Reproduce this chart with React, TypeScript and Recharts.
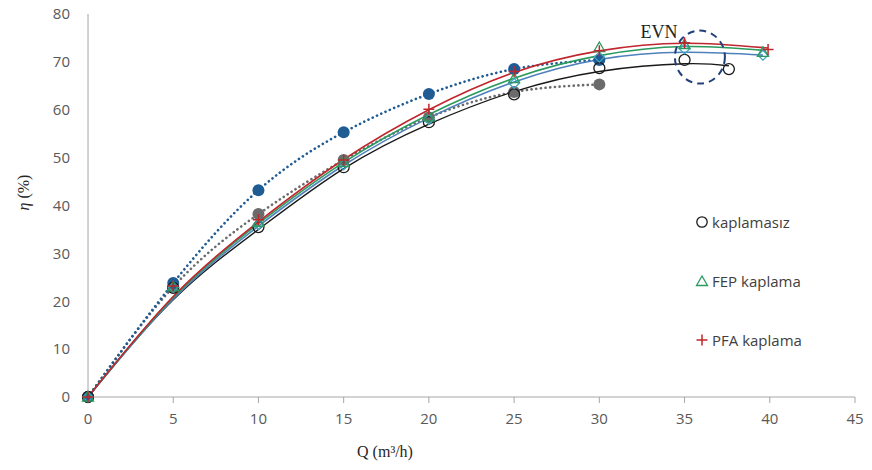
import React from 'react';
import { ComposedChart, Line, XAxis, YAxis, ReferenceDot } from 'recharts';

// ---- data ----
const xTicks = [0, 5, 10, 15, 20, 25, 30, 35, 40, 45];
const yTicks = [0, 10, 20, 30, 40, 50, 60, 70, 80];

// measured points
const uncoatedQ = [0, 5, 10, 15, 20, 25, 30, 35, 37.6];
const uncoatedEta = [0, 22.8, 35.5, 48, 57.4, 63.2, 68.7, 70.4, 68.5];
const fepQ = [0, 5, 10, 15, 20, 25, 30, 35, 39.6];
const fepEta = [0, 23, 36.5, 49, 58.5, 66.5, 73, 73.6, 72];
const pfaQ = [0, 5, 10, 15, 20, 25, 30, 35, 39.9];
const pfaEta = [0, 23.2, 37, 49.5, 60.1, 68, 72.3, 74, 72.6];
const diaQ = [0, 5, 10, 15, 20, 25, 30, 35, 39.6];
const diaEta = [0, 22.9, 36, 48.5, 58, 65.5, 71, 72.7, 71.4];
const blueQ = [0, 5, 10, 15, 20, 25, 30];
const blueEta = [0, 23.8, 43.2, 55.3, 63.3, 68.5, 70.4];
const grayQ = [0, 5, 10, 15, 20, 25, 30];
const grayEta = [0, 23, 38.2, 49.5, 58.4, 63.7, 65.3];

// trend lines
const uncoatedFitQ = [0, 5, 10, 15, 20, 25, 30, 35, 37.6];
const uncoatedFitEta = [0, 20.3, 35, 47.7, 57, 63.8, 68, 69.6, 69.2];
const fepFitQ = [0, 5, 10, 15, 20, 25, 30, 35, 39.7];
const fepFitEta = [0, 20.8, 36.2, 49, 59, 66.6, 71.3, 73.2, 72.4];
const diaFitQ = [0, 5, 10, 15, 20, 25, 30, 35, 39.6];
const diaFitEta = [0, 20.5, 35.7, 48.4, 58.3, 65.8, 70.5, 72, 71.4];
const pfaFitQ = [0, 5, 10, 15, 20, 25, 30, 35, 39.9];
const pfaFitEta = [0, 21, 36.6, 49.6, 60, 67.8, 72.3, 73.9, 72.9];

const legendLabels = ['kaplamasız', 'FEP kaplama', 'PFA kaplama'];
const evnLabel = 'EVN';
const evnQ = 35.9;
const evnEta = 71;

const zip = (q: number[], e: number[]) => q.map((v, i) => ({ q: v, eta: e[i] }));

const C_BLACK = '#1a1a1a';
const C_GREEN = '#2a9a5e';
const C_RED = '#c0262d';
const C_STEEL = '#4f81bd';
const C_CYAN = '#3fa7c4';
const C_BLUE = '#1f5c94';
const C_GRAY = '#6b6b6b';

const openCircle = (p: any) =>
  p.cx == null ? null : (
    <circle key={`oc${p.index}`} cx={p.cx} cy={p.cy} r={5.5} fill="none" stroke={C_BLACK} strokeWidth={1.3} />
  );
const triangle = (p: any) =>
  p.cx == null ? null : (
    <path
      key={`tr${p.index}`}
      d={`M${p.cx},${p.cy - 5.5}L${p.cx + 5.5},${p.cy + 4}L${p.cx - 5.5},${p.cy + 4}Z`}
      fill="none"
      stroke={C_GREEN}
      strokeWidth={1.3}
    />
  );
const plus = (p: any) =>
  p.cx == null ? null : (
    <path
      key={`pl${p.index}`}
      d={`M${p.cx - 5.5},${p.cy}H${p.cx + 5.5}M${p.cx},${p.cy - 5.5}V${p.cy + 5.5}`}
      stroke={C_RED}
      strokeWidth={1.5}
      fill="none"
    />
  );
const diamond = (p: any) =>
  p.cx == null ? null : (
    <path
      key={`di${p.index}`}
      d={`M${p.cx},${p.cy - 5}L${p.cx + 5},${p.cy}L${p.cx},${p.cy + 5}L${p.cx - 5},${p.cy}Z`}
      fill="none"
      stroke={C_CYAN}
      strokeWidth={1.3}
    />
  );
const filled = (color: string) => (p: any) =>
  p.cx == null ? null : <circle key={`f${color}${p.index}`} cx={p.cx} cy={p.cy} r={6} fill={color} stroke="none" />;

const tickStyle = { fill: '#595959', fontSize: 15, fontFamily: 'Open Sans, sans-serif' };

export default function App() {
  return (
    <div style={{ position: 'relative', width: 856, height: 470, marginTop: -8 }}>
      <ComposedChart width={856} height={470} margin={{ top: 14, right: 9, left: 0, bottom: 13 }}>
        <XAxis
          dataKey="q"
          type="number"
          domain={[0, 45]}
          ticks={xTicks}
          interval={0}
          tick={tickStyle}
          tickMargin={10}
          tickSize={6}
          stroke="#a6a6a6"
          height={60}
          label={{
            content: (props: any) => {
              const vb = props.viewBox || {};
              return (
                <text
                  x={(vb.x ?? 80) + 297}
                  y={(vb.y ?? 397) + 60}
                  textAnchor="middle"
                  fontFamily="Liberation Serif, Times New Roman, serif"
                  fontSize={16}
                  fill="#262626"
                >
                  Q (m³/h)
                </text>
              );
            },
          }}
        />
        <YAxis
          type="number"
          domain={[0, 80]}
          ticks={yTicks}
          interval={0}
          tick={tickStyle}
          tickLine={false}
          tickMargin={12}
          stroke="#a6a6a6"
          width={80}
          label={{
            content: (props: any) => {
              const vb = props.viewBox || {};
              const cx = (vb.x ?? 0) + 21;
              const cy = (vb.y ?? 14) + (vb.height ?? 383) / 2 - 13;
              return (
                <text
                  x={cx}
                  y={cy}
                  transform={`rotate(-90, ${cx}, ${cy})`}
                  textAnchor="middle"
                  fontFamily="Liberation Serif, Times New Roman, serif"
                  fontSize={16}
                  fill="#262626"
                >
                  <tspan fontStyle="italic">η</tspan>
                  <tspan> (%)</tspan>
                </text>
              );
            },
          }}
        />
        {/* dotted trend lines */}
        <Line data={zip(grayQ, grayEta)} dataKey="eta" type="natural" stroke={C_GRAY} strokeWidth={2.6} strokeDasharray="0.1 4.6" strokeLinecap="round" dot={false} activeDot={false} isAnimationActive={false} />
        <Line data={zip(blueQ, blueEta)} dataKey="eta" type="natural" stroke={C_BLUE} strokeWidth={2.6} strokeDasharray="0.1 4.6" strokeLinecap="round" dot={false} activeDot={false} isAnimationActive={false} />
        {/* solid trend lines */}
        <Line data={zip(uncoatedFitQ, uncoatedFitEta)} dataKey="eta" type="natural" stroke={C_BLACK} strokeWidth={1.4} dot={false} activeDot={false} isAnimationActive={false} />
        <Line data={zip(diaFitQ, diaFitEta)} dataKey="eta" type="natural" stroke={C_STEEL} strokeWidth={1.6} dot={false} activeDot={false} isAnimationActive={false} />
        <Line data={zip(fepFitQ, fepFitEta)} dataKey="eta" type="natural" stroke={C_GREEN} strokeWidth={1.6} dot={false} activeDot={false} isAnimationActive={false} />
        <Line data={zip(pfaFitQ, pfaFitEta)} dataKey="eta" type="natural" stroke={C_RED} strokeWidth={1.6} dot={false} activeDot={false} isAnimationActive={false} />
        {/* markers */}
        <Line data={zip(grayQ, grayEta)} dataKey="eta" stroke="none" dot={filled(C_GRAY)} activeDot={false} isAnimationActive={false} />
        <Line data={zip(blueQ, blueEta)} dataKey="eta" stroke="none" dot={filled(C_BLUE)} activeDot={false} isAnimationActive={false} />
        <Line data={zip(uncoatedQ, uncoatedEta)} dataKey="eta" stroke="none" dot={openCircle} activeDot={false} isAnimationActive={false} />
        <Line data={zip(diaQ, diaEta)} dataKey="eta" stroke="none" dot={diamond} activeDot={false} isAnimationActive={false} />
        <Line data={zip(fepQ, fepEta)} dataKey="eta" stroke="none" dot={triangle} activeDot={false} isAnimationActive={false} />
        <Line data={zip(pfaQ, pfaEta)} dataKey="eta" stroke="none" dot={plus} activeDot={false} isAnimationActive={false} />
        <ReferenceDot
          x={evnQ}
          y={evnEta}
          r={0}
          ifOverflow="visible"
          shape={(p: any) => (
            <g>
              <ellipse cx={p.cx} cy={p.cy} rx={25} ry={26.5} fill="none" stroke="#22407a" strokeWidth={2} strokeDasharray="7 5" />
              <text
                x={p.cx - 41}
                y={p.cy - 19}
                textAnchor="middle"
                fontFamily="Liberation Serif, Times New Roman, serif"
                fontSize={18}
                fill="#222"
              >
                {evnLabel}
              </text>
            </g>
          )}
        />
      </ComposedChart>
      <div
        style={{
          position: 'absolute',
          left: 687,
          top: 211,
          fontFamily: 'Open Sans, sans-serif',
          fontSize: 15,
          color: '#404040',
        }}
      >
        {legendLabels.map((lab, i) => (
          <div key={lab} style={{ display: 'flex', alignItems: 'center', height: 22, marginBottom: 37 }}>
            <svg width={14} height={14} style={{ marginRight: 3 }}>
              {i === 0 && <circle cx={7} cy={7} r={5.2} fill="none" stroke={C_BLACK} strokeWidth={1.3} />}
              {i === 1 && <path d="M7,2L12.5,11.5L1.5,11.5Z" fill="none" stroke={C_GREEN} strokeWidth={1.3} />}
              {i === 2 && <path d="M1.5,7H12.5M7,1.5V12.5" stroke={C_RED} strokeWidth={1.5} />}
            </svg>
            <span>{lab}</span>
          </div>
        ))}
      </div>
    </div>
  );
}
